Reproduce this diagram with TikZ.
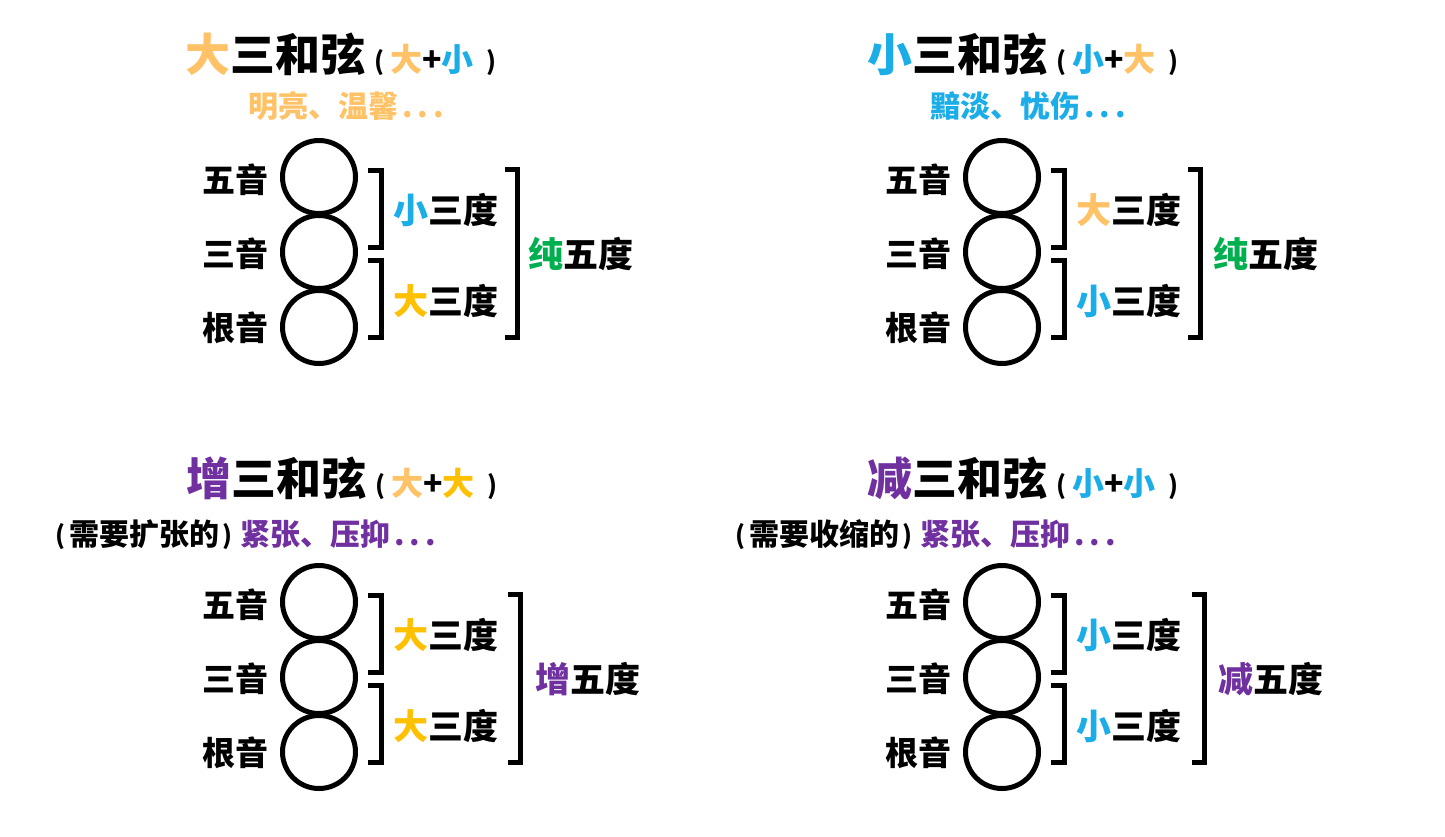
\documentclass[tikz,border=0pt]{standalone}
\usepackage{fontspec}
\setmainfont{Noto Sans CJK SC}
\definecolor{lorange}{HTML}{FFC266}
\definecolor{gold}{HTML}{FFC000}
\definecolor{lblue}{HTML}{1AADE8}
\definecolor{mgreen}{HTML}{00B050}
\definecolor{mpurple}{HTML}{7030A0}
\newcommand\mydots{\hspace{4pt}.\hspace{5pt}.\hspace{5pt}.}
\newcommand\smp[1]{{\fontsize{25}{25}\selectfont\raisebox{1pt}{#1}}}
\newcommand\parpart[2]{\hspace{9pt}\smp{(}\hspace{6pt}{\fontsize{32}{32}\selectfont #1+#2}\hspace{13pt}\smp{)}}
\tikzset{
  note/.style={circle,draw=black,line width=5pt,minimum size=73pt,inner sep=0pt},
  lab/.style={font=\fontsize{33}{33}\selectfont\bfseries,inner sep=0pt,anchor=east},
  ivl/.style={font=\fontsize{35}{35}\selectfont\bfseries,inner sep=0pt,anchor=west},
  ttl/.style={font=\fontsize{45}{45}\selectfont\bfseries,inner sep=0pt,anchor=west},
  sub/.style={font=\fontsize{30}{30}\selectfont\bfseries,inner sep=0pt,anchor=west},
  brk/.style={line width=5pt,line cap=butt,line join=miter}
}
% #1 upper interval, #2 lower interval, #3 fifth, #4 big bracket dx, #5 fifth label x
\newcommand\panelbody[5]{
  \node[note] (c5) at (319,177) {};
  \node[note] (c3) at (319,252) {};
  \node[note] (c1) at (319,327) {};
  \node[lab] (l5) at (269,180) {五音};
  \node[lab] (l3) at (269,254) {三音};
  \node[lab] (l1) at (269,328) {根音};
  \coordinate (b1a) at (368,170.5);
  \coordinate (b1b) at (368,247.5);
  \coordinate (b2a) at (368,260.5);
  \coordinate (b2b) at (368,337.5);
  \draw[brk] (b1a) -| (381.5,209) |- (b1b);
  \draw[brk] (b2a) -| (381.5,299) |- (b2b);
  \coordinate (b3a) at (505+#4,169.5);
  \coordinate (b3b) at (505+#4,337.5);
  \draw[brk] (b3a) -| (517.5+#4,253) |- (b3b);
  \node[ivl] (i1) at (393,210) {#1};
  \node[ivl] (i2) at (393,301) {#2};
  \node[ivl] (i3) at (#5,254) {#3};
}
\begin{document}
\begin{tikzpicture}[x=1pt,y=-1pt]
\useasboundingbox (0,0) rectangle (1445,836);
\fill[white] (0,0) rectangle (1445,836);
% top-left
\begin{scope}[name prefix=tl-]
  \node[ttl] (title) at (185,54) {\textcolor{lorange}{大}三和弦\parpart{\textcolor{lorange}{大}}{\textcolor{lblue}{小}}};
  \node[sub,text=lorange] (mood) at (248,106) {明亮、温馨\mydots};
  \panelbody{\textcolor{lblue}{小}三度}{\textcolor{gold}{大}三度}{\textcolor{mgreen}{纯}五度}{0}{528}
\end{scope}
% top-right
\begin{scope}[shift={(683,0)},name prefix=tr-]
  \node[ttl] (title) at (184,54) {\textcolor{lblue}{小}三和弦\parpart{\textcolor{lblue}{小}}{\textcolor{lorange}{大}}};
  \node[sub,text=lblue] (mood) at (247,106) {黯淡、忧伤\mydots};
  \panelbody{\textcolor{lorange}{大}三度}{\textcolor{lblue}{小}三度}{\textcolor{mgreen}{纯}五度}{0}{530}
\end{scope}
% bottom-left
\begin{scope}[shift={(0,425)},name prefix=bl-]
  \node[ttl] (title) at (186,53) {\textcolor{mpurple}{增}三和弦\parpart{\textcolor{lorange}{大}}{\textcolor{gold}{大}}};
  \node[sub] (mood) at (52,110) {\hspace{3pt}\smp{(}\hspace{4pt}需要扩张的\hspace{3pt}\smp{)}\hspace{8pt}\textcolor{mpurple}{紧张、压抑\mydots}};
  \panelbody{\textcolor{gold}{大}三度}{\textcolor{gold}{大}三度}{\textcolor{mpurple}{增}五度}{3}{535}
\end{scope}
% bottom-right
\begin{scope}[shift={(683,425)},name prefix=br-]
  \node[ttl] (title) at (184,53) {\textcolor{mpurple}{减}三和弦\parpart{\textcolor{lblue}{小}}{\textcolor{lblue}{小}}};
  \node[sub] (mood) at (49,110) {\hspace{3pt}\smp{(}\hspace{4pt}需要收缩的\hspace{3pt}\smp{)}\hspace{8pt}\textcolor{mpurple}{紧张、压抑\mydots}};
  \panelbody{\textcolor{lblue}{小}三度}{\textcolor{lblue}{小}三度}{\textcolor{mpurple}{减}五度}{4}{535}
\end{scope}
\end{tikzpicture}
\end{document}
